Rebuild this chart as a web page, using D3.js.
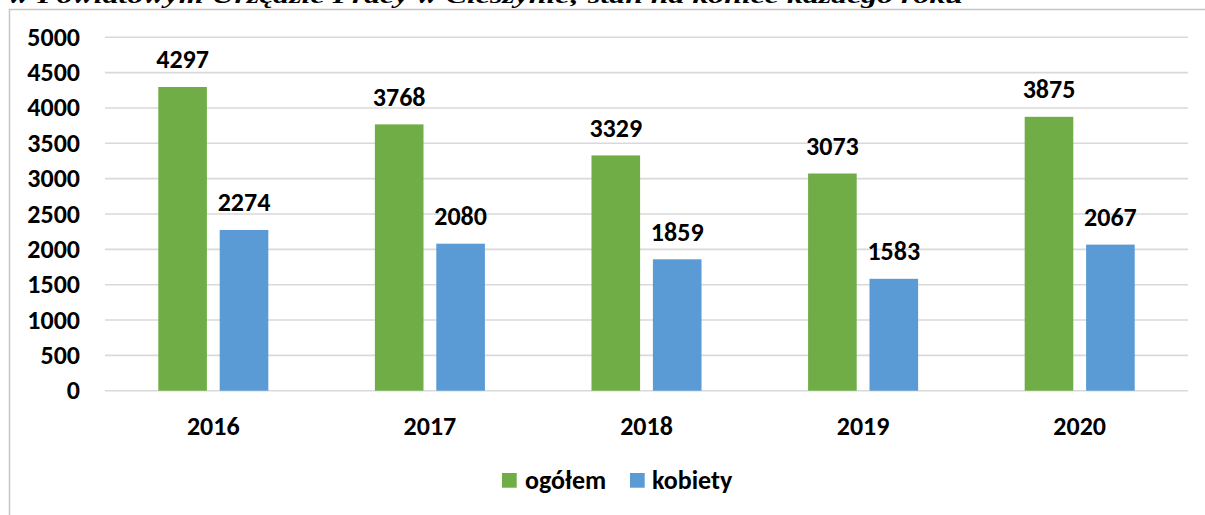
<!DOCTYPE html>
<html>
<head>
<meta charset="utf-8">
<script src="https://cdn.jsdelivr.net/npm/d3@7"></script>
<style>
  html, body { margin: 0; padding: 0; background: #fff; }
  svg { display: block; }
</style>
</head>
<body>
<svg id="chart" width="1205" height="515"></svg>
<script>
const categories = ["2016", "2017", "2018", "2019", "2020"];
const seriesNames = ["ogółem", "kobiety"];
const ogolem = [4297, 3768, 3329, 3073, 3875];
const kobiety = [2274, 2080, 1859, 1583, 2067];
const yTicks = [0, 500, 1000, 1500, 2000, 2500, 3000, 3500, 4000, 4500, 5000];
const titleText = "w Powiatowym Urzędzie Pracy w Cieszynie; stan na koniec każdego roku";

const colors = { "ogółem": "#70ad47", "kobiety": "#5b9bd5" };
const font = "Carlito, Lato, 'Open Sans', sans-serif";
const fs = "26px";

const svg = d3.select("#chart");

// title (cut off at top, as in the reference)
svg.append("text")
  .attr("x", 8).attr("y", 2.5)
  .attr("textLength", 955).attr("lengthAdjust", "spacingAndGlyphs")
  .style("font-family", "'Liberation Serif', 'DejaVu Serif', serif")
  .style("font-weight", "bold").style("font-style", "italic")
  .style("font-size", "22px").attr("fill", "#000")
  .text(titleText);

// frame
svg.append("rect")
  .attr("x", 9.5).attr("y", 9.5).attr("width", 1300).attr("height", 600)
  .attr("fill", "none").attr("stroke", "#c6c6c6").attr("stroke-width", 1.5);

const y = d3.scaleLinear().domain([0, 5000]).range([390.7, 37.3]);
const x0 = d3.scaleBand().domain(categories).range([105, 1188])
  .paddingInner(0.492).paddingOuter(0.246);
const x1 = d3.scaleBand().domain(seriesNames).range([0, x0.bandwidth()])
  .paddingInner(0.2085);

// gridlines
svg.append("g").selectAll("line").data(yTicks).join("line")
  .attr("x1", 105).attr("x2", 1188)
  .attr("y1", d => y(d)).attr("y2", d => y(d))
  .attr("stroke", "#d9d9d9").attr("stroke-width", 1.6);

// y axis labels
svg.append("g").selectAll("text").data(yTicks).join("text")
  .attr("x", 80).attr("y", d => y(d) + 8.5)
  .attr("text-anchor", "end")
  .style("font-family", font).style("font-weight", "bold").style("font-size", fs)
  .text(d => d);

// x axis labels
svg.append("g").selectAll("text").data(categories).join("text")
  .attr("x", d => x0(d) + x0.bandwidth() / 2).attr("y", 435)
  .attr("text-anchor", "middle")
  .style("font-family", font).style("font-weight", "bold").style("font-size", fs)
  .text(d => d);

const data = categories.map((c, i) => ({
  cat: c,
  vals: [{ s: "ogółem", v: ogolem[i] }, { s: "kobiety", v: kobiety[i] }]
}));

const groups = svg.append("g").selectAll("g").data(data).join("g")
  .attr("transform", d => `translate(${x0(d.cat)},0)`);

groups.selectAll("rect").data(d => d.vals).join("rect")
  .attr("x", d => x1(d.s)).attr("width", x1.bandwidth())
  .attr("y", d => y(d.v)).attr("height", d => y(0) - y(d.v))
  .attr("fill", d => colors[d.s]);

groups.selectAll("text").data(d => d.vals).join("text")
  .attr("x", d => x1(d.s) + x1.bandwidth() / 2)
  .attr("y", d => y(d.v) - 18.5)
  .attr("text-anchor", "middle")
  .style("font-family", font).style("font-weight", "bold").style("font-size", fs)
  .text(d => d.v);

// legend
const legendItems = [
  { s: "ogółem", x: 502, tx: 525 },
  { s: "kobiety", x: 630, tx: 652 }
];
const lg = svg.append("g");
lg.selectAll("rect").data(legendItems).join("rect")
  .attr("x", d => d.x).attr("y", 473).attr("width", 14.7).attr("height", 14.7)
  .attr("fill", d => colors[d.s]);
lg.selectAll("text").data(legendItems).join("text")
  .attr("x", d => d.tx).attr("y", 489)
  .style("font-family", font).style("font-weight", "bold").style("font-size", fs)
  .text(d => d.s);
</script>
</body>
</html>
